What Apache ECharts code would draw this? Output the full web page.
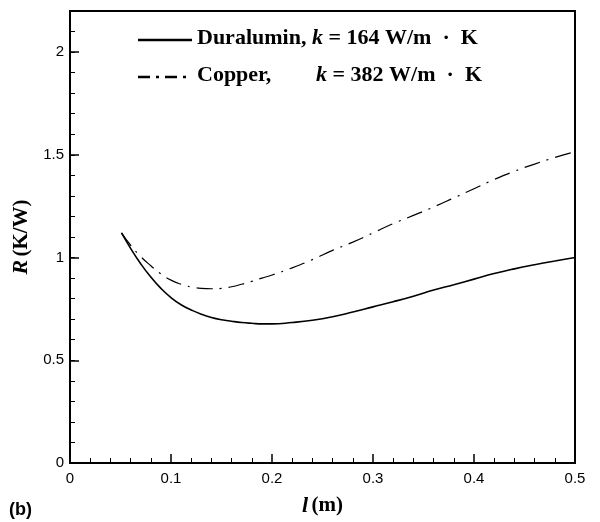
<!DOCTYPE html>
<html>
<head>
<meta charset="utf-8">
<script src="https://cdn.jsdelivr.net/npm/echarts@6/dist/echarts.min.js"></script>
<style>
  html, body { margin: 0; padding: 0; background: #fff; }
  #chart { width: 600px; height: 522px; }
</style>
</head>
<body>
<div id="chart"></div>
<script>
// length l (m)
const lengths = [0.051, 0.06, 0.07, 0.08, 0.09, 0.10, 0.11, 0.12, 0.13, 0.14, 0.15, 0.16, 0.17, 0.18, 0.19, 0.20,
  0.22, 0.24, 0.26, 0.28, 0.30, 0.32, 0.34, 0.36, 0.38, 0.40, 0.42, 0.44, 0.46, 0.48, 0.50];

// thermal resistance R (K/W)
const duralumin = [1.12, 1.045, 0.97, 0.905, 0.85, 0.805, 0.77, 0.745, 0.724, 0.708, 0.697, 0.690, 0.684, 0.680, 0.677, 0.677,
  0.684, 0.695, 0.712, 0.735, 0.760, 0.785, 0.812, 0.842, 0.868, 0.895, 0.922, 0.945, 0.965, 0.983, 1.0];
const copper = [1.12, 1.06, 1.005, 0.96, 0.92, 0.89, 0.87, 0.857, 0.850, 0.848, 0.850, 0.858, 0.870, 0.884, 0.900, 0.915,
  0.950, 0.990, 1.035, 1.075, 1.120, 1.165, 1.205, 1.246, 1.290, 1.335, 1.380, 1.420, 1.455, 1.487, 1.515];

const xTicks = ['0', '0.1', '0.2', '0.3', '0.4', '0.5'];
const yTicks = ['0', '0.5', '1', '1.5', '2'];

const serif = "'Liberation Serif', 'Times New Roman', serif";
const sans = "'Liberation Sans', Arial, sans-serif";

const chart = echarts.init(document.getElementById('chart'), null, { renderer: 'canvas' });

const pair = (xs, ys) => xs.map((x, i) => [x, ys[i]]);

// rich styles for titles / legend (italic symbol + bold text)
const titleRich = {
  i: { fontFamily: serif, fontStyle: 'italic', fontWeight: 'bold', fontSize: 22, color: '#000' },
  b: { fontFamily: serif, fontWeight: 'bold', fontSize: 21, color: '#000' }
};
const legendRich = {
  i: { fontFamily: serif, fontStyle: 'italic', fontWeight: 'bold', fontSize: 22, fill: '#000' },
  b: { fontFamily: serif, fontWeight: 'bold', fontSize: 22, fill: '#000' }
};

const option = {
  animation: false,
  backgroundColor: '#fff',
  grid: {
    left: 70, right: 25, top: 11, bottom: 48,
    show: true, borderColor: '#000', borderWidth: 2, backgroundColor: 'transparent'
  },
  xAxis: {
    type: 'value',
    min: 0, max: 0.5, interval: 0.1,
    name: '{i|l} {b|(m)}',
    nameLocation: 'middle',
    nameGap: 32,
    nameTextStyle: { rich: titleRich },
    axisLine: { lineStyle: { color: '#000', width: 2 } },
    axisTick: { inside: true, length: 9, lineStyle: { color: '#000', width: 1.5 } },
    minorTick: { show: true, splitNumber: 5, length: 5, lineStyle: { color: '#000', width: 1 } },
    splitLine: { show: false },
    axisLabel: {
      margin: 8, fontFamily: sans, fontSize: 15, color: '#000',
      formatter: v => xTicks[Math.round(v * 10)]
    }
  },
  yAxis: [
    {
      type: 'value',
      min: 0, max: 2.2, interval: 0.5,
      name: '{i|R} {b|(K/W)}',
      nameLocation: 'middle',
      nameGap: 30,
      nameTextStyle: { rich: titleRich },
      axisLine: { lineStyle: { color: '#000', width: 2 } },
      axisTick: { inside: true, length: 9, lineStyle: { color: '#000', width: 1.5 } },
      splitLine: { show: false },
      axisLabel: {
        margin: 6, fontFamily: sans, fontSize: 15, color: '#000',
        showMaxLabel: false,
        formatter: v => {
          const k = Math.round(v * 2);
          return Math.abs(v * 2 - k) < 1e-6 ? yTicks[k] : '';
        }
      }
    },
    {
      // minor ticks every 0.1
      type: 'value',
      min: 0, max: 2.2, interval: 0.1,
      position: 'left',
      axisLine: { show: false },
      axisTick: { inside: true, length: 5, lineStyle: { color: '#000', width: 1 } },
      axisLabel: { show: false },
      splitLine: { show: false }
    }
  ],
  series: [
    {
      name: 'Duralumin',
      type: 'line',
      smooth: true,
      showSymbol: false,
      yAxisIndex: 0,
      lineStyle: { color: '#000', width: 1.6 },
      data: pair(lengths, duralumin)
    },
    {
      name: 'Copper',
      type: 'line',
      smooth: true,
      showSymbol: false,
      yAxisIndex: 0,
      lineStyle: { color: '#000', width: 1.2, type: [16, 7, 2, 7] },
      data: pair(lengths, copper)
    }
  ],
  graphic: [
    // legend
    { type: 'line', shape: { x1: 138, y1: 40, x2: 192, y2: 40 }, style: { stroke: '#000', lineWidth: 2.5 } },
    { type: 'line', shape: { x1: 138, y1: 77, x2: 192, y2: 77 }, style: { stroke: '#000', lineWidth: 2.5, lineDash: [12, 6, 3, 6] } },
    {
      type: 'text', left: 197, top: 27,
      style: { text: '{b|Duralumin, }{i|k}{b| = 164 W/m  ·  K}', rich: legendRich }
    },
    {
      type: 'text', left: 197, top: 64,
      style: { text: '{b|Copper,}', rich: legendRich }
    },
    {
      type: 'text', right: 118, top: 64,
      style: { text: '{i|k}{b| = 382 W/m  ·  K}', rich: legendRich }
    },
    {
      type: 'text', left: 9, top: 501,
      style: { text: '(b)', font: 'bold 18px ' + sans, fill: '#000' }
    }
  ]
};

chart.setOption(option);
</script>
</body>
</html>
